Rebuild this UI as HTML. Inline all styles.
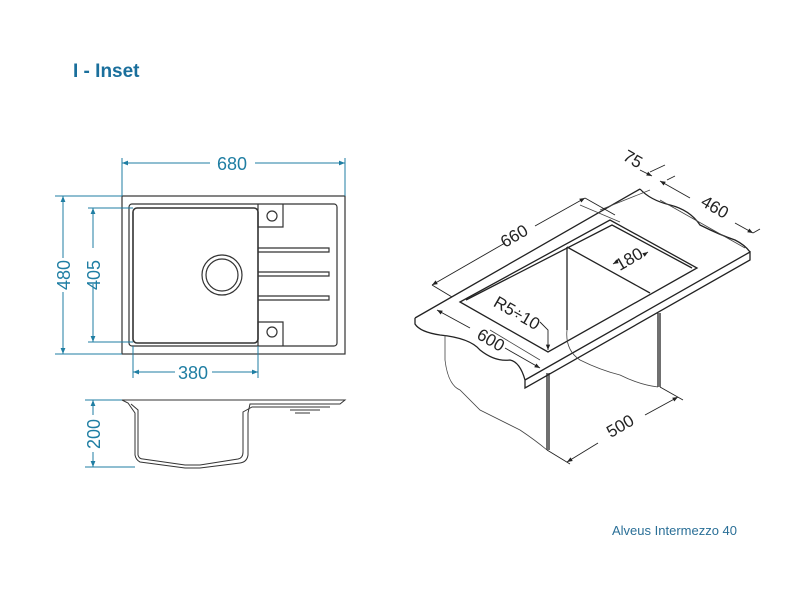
<!DOCTYPE html>
<html><head><meta charset="utf-8"><style>
body{margin:0;background:#fff;width:800px;height:600px;overflow:hidden}
svg{display:block}
</style></head><body>
<svg width="800" height="600" viewBox="0 0 800 600" xmlns="http://www.w3.org/2000/svg" font-family="Liberation Sans, sans-serif">
<defs>
<marker id="a" viewBox="0 0 10 10" refX="10" refY="5" markerWidth="8" markerHeight="6" orient="auto-start-reverse"><path d="M0,1 L10,5 L0,9 z" fill="#1f7ea3"/></marker>
<marker id="k" viewBox="0 0 10 10" refX="10" refY="5" markerWidth="8" markerHeight="6" orient="auto-start-reverse"><path d="M0,1 L10,5 L0,9 z" fill="#222"/></marker>
</defs>
<text x="73" y="77" font-size="19" font-weight="bold" fill="#1a6f9c">I - Inset</text>
<text x="612" y="535" font-size="13" fill="#2a6f97">Alveus Intermezzo 40</text>

<!-- top view -->
<g fill="none" stroke="#333" stroke-width="1.2">
<rect x="122" y="196" width="223" height="158"/>
<rect x="129" y="204" width="208" height="142" rx="3"/>
<rect x="133" y="208" width="125" height="135" rx="4" stroke-width="1.6"/>
<circle cx="222" cy="275" r="20"/><circle cx="222" cy="275" r="16"/>
<path d="M258,204 V227 H283 V204"/><circle cx="272" cy="216" r="5"/>
<path d="M258,346 V322 H283 V346"/><circle cx="272" cy="332" r="5"/>
<path d="M258,248 H329 V252 H258 M258,272 H329 V276 H258 M258,296 H329 V300 H258"/>
</g>
<g stroke="#1f7ea3" stroke-width="1" fill="none">
<path d="M122,158 V196 M345,158 V196 M55,196 H122 M55,354 H122 M88,208 H133 M88,342 H133 M133,346 V378 M258,346 V378 M85,400 H122 M85,467 H135"/>
<line x1="122" y1="163" x2="210" y2="163" marker-start="url(#a)"/><line x1="255" y1="163" x2="345" y2="163" marker-end="url(#a)"/>
<line x1="63" y1="196" x2="63" y2="258" marker-start="url(#a)"/><line x1="63" y1="292" x2="63" y2="354" marker-end="url(#a)"/>
<line x1="93" y1="208" x2="93" y2="248" marker-start="url(#a)"/><line x1="93" y1="284" x2="93" y2="342" marker-end="url(#a)"/>
<line x1="133" y1="372" x2="175" y2="372" marker-start="url(#a)"/><line x1="212" y1="372" x2="258" y2="372" marker-end="url(#a)"/>
<line x1="93" y1="400" x2="93" y2="415" marker-start="url(#a)"/><line x1="93" y1="452" x2="93" y2="467" marker-end="url(#a)"/>
</g>
<g fill="#1f7ea3" font-size="18" text-anchor="middle">
<text x="232" y="170">680</text>
<text x="193" y="379">380</text>
<text transform="translate(70,275) rotate(-90)">480</text>
<text transform="translate(100,275) rotate(-90)">405</text>
<text transform="translate(100,434) rotate(-90)">200</text>
</g>
<!-- side view -->
<g fill="none" stroke="#333" stroke-width="1">
<path d="M122,400 H345 L340,404 H250 L248,413 V455 Q247,462 240,463 L200,468 H185 L140,462 Q136,460 135,455 V413 L128,403 Z"/>
<path d="M131,404 L138,410 V455 Q139,459 143,459 L185,465 H200 L238,459 Q243,458 243,452 V412 L252,407 H330"/>
<path d="M290,410 H320 M295,413 H310"/>
</g>

<!-- iso view -->
<g fill="none" stroke="#222" stroke-width="1.3">
<path d="M415,318 L640,189 M525,380 L750,252 L750,260 L525,388 Z M415,318 L415,324 Q420,332 440,335 Q470,338 480,350 Q495,362 510,360 Q520,362 525,380"/>
<path d="M640,189 Q650,200 670,205 Q690,210 700,225 Q720,235 735,240 Q745,245 750,252"/>
<path d="M460,302 L610,220 L697,268 L548,352 Z"/>
<path d="M466,300 L612,225 L692,268"/>
<path d="M567,247 L650,293 M567,247 L567,330"/>
<path d="M547,373 V450 M549,373 V450 M658,313 V387 M660,313 V387"/>
</g>
<g fill="none" stroke="#444" stroke-width="0.8">
<path d="M445,335 V360 Q448,385 460,390 Q470,400 480,410 Q500,420 520,430 Q535,440 547,450"/>
<path d="M567,330 Q565,350 580,360 Q600,370 620,375 Q640,385 658,387"/>
<path d="M660,200 L745,248 M650,190 L600,210 M580,205 L620,222 M490,330 L540,360"/>
</g>
<g stroke="#222" stroke-width="0.9" fill="none">
<line x1="432" y1="285" x2="505" y2="243" marker-start="url(#k)"/><line x1="535" y1="226" x2="585" y2="198" marker-end="url(#k)"/>
<path d="M585,198 L615,215 M432,285 L452,297"/>
<line x1="640" y1="170" x2="652" y2="176" marker-end="url(#k)"/>
<line x1="660" y1="181" x2="690" y2="198" marker-start="url(#k)"/><line x1="735" y1="223" x2="753" y2="233" marker-end="url(#k)"/>
<path d="M650,172 L665,165 M667,180 L675,176 M753,233 L760,229"/>
<line x1="437" y1="310" x2="470" y2="328" marker-start="url(#k)"/><line x1="505" y1="348" x2="540" y2="368" marker-end="url(#k)"/>
<line x1="567" y1="462" x2="598" y2="443" marker-start="url(#k)"/><line x1="645" y1="415" x2="678" y2="397" marker-end="url(#k)"/>
<path d="M547,450 L570,464 M660,387 L683,400"/>
<line x1="613" y1="264" x2="618" y2="261"  marker-start="url(#k)"/><line x1="645" y1="254" x2="648" y2="252" marker-end="url(#k)"/>
<path d="M540,322 L548,330 V350" marker-end="url(#k)"/>
</g>
<g fill="#222" font-size="17" text-anchor="middle">
<text transform="translate(517,241) rotate(-30)">660</text>
<text transform="translate(630,164) rotate(30)">75</text>
<text transform="translate(712,212) rotate(30)">460</text>
<text transform="translate(488,345) rotate(30)">600</text>
<text transform="translate(623,431) rotate(-30)">500</text>
<text transform="translate(632,264) rotate(-30)">180</text>
<text transform="translate(514,318) rotate(30)">R5÷10</text>
</g>
</svg>
</body></html>
